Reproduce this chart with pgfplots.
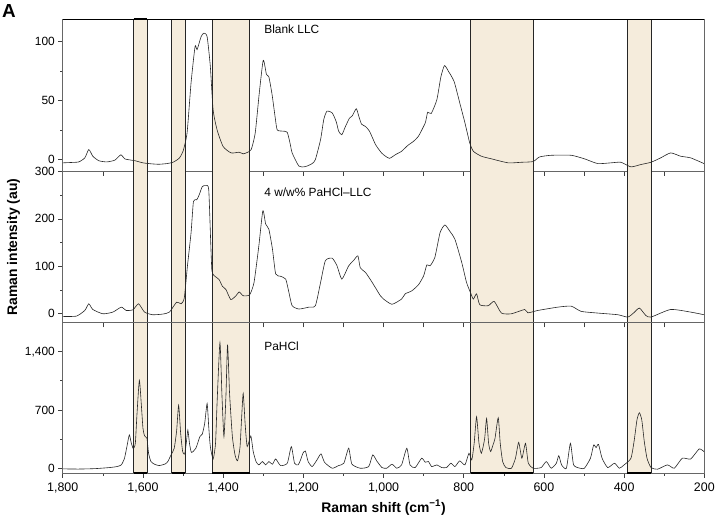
\documentclass[border=0pt]{standalone}
\usepackage{pgfplots}
\pgfplotsset{compat=1.18}
\usepackage{fontspec}
\setmainfont{Liberation Sans}
\usetikzlibrary{calc}
\definecolor{band}{RGB}{245,236,220}

% shaded regions, drawn in every panel between y=#1 and y=#2
\newcommand\bands[2]{%
  \fill[band] (axis cs:1623,#1) rectangle (axis cs:1590,#2);
  \fill[band] (axis cs:1528,#1) rectangle (axis cs:1495,#2);
  \fill[band] (axis cs:1427,#1) rectangle (axis cs:1334,#2);
  \fill[band] (axis cs:783,#1) rectangle (axis cs:627,#2);
  \fill[band] (axis cs:393,#1) rectangle (axis cs:332,#2);
  \draw[black!85, line width=0.7bp]
    (axis cs:1623,#1) -- (axis cs:1623,#2) (axis cs:1590,#1) -- (axis cs:1590,#2)
    (axis cs:1528,#1) -- (axis cs:1528,#2) (axis cs:1495,#1) -- (axis cs:1495,#2)
    (axis cs:1427,#1) -- (axis cs:1427,#2) (axis cs:1334,#1) -- (axis cs:1334,#2)
    (axis cs:783,#1) -- (axis cs:783,#2) (axis cs:627,#1) -- (axis cs:627,#2)
    (axis cs:393,#1) -- (axis cs:393,#2) (axis cs:332,#1) -- (axis cs:332,#2);
}

\pgfplotsset{
  panel/.style={
    scale only axis, width=644bp, x dir=reverse, xmin=200, xmax=1800,
    axis line style={black!60, line width=0.8bp},
    tick style={black!75, line width=0.6bp},
    xtick={200,300,...,1800},
    xtick pos=bottom, ytick pos=left, tick align=outside,
    major tick length=4.5bp, minor tick length=2.5bp,
    ticklabel style={font=\fontsize{12}{12}\selectfont},
    /pgf/number format/1000 sep={,},
    /pgf/number format/assume math mode=true,
  },
  spec/.style={black!85, line width=0.6bp, mark=none, smooth, tension=0.35},
}

\begin{document}
\begin{tikzpicture}
% ---------- Blank LLC ----------
\begin{axis}[panel, name=a1, height=153bp, ymin=-10, ymax=119,
  ytick={0,50,100}, minor ytick={25,75}, xticklabels={},
  axis y line*=left]
\bands{-10}{119}
\draw[black, line width=2bp] (axis cs:1623,119) -- (axis cs:1590,119);
\addplot[spec] coordinates {
(1800,-2.8)(1780,-2.5)(1760,-2)(1745,1.4)(1735,8.5)(1725,2.8)(1710,-1)(1690,-2)
(1670,-0.5)(1655,4)(1645,0.5)(1620,-1)(1600,-2.8)(1580,-3.6)(1560,-4)(1540,-3.4)
(1525,-2.3)(1510,1)(1500,7)(1490,22.5)(1480,65)(1470,95.8)(1465,93)(1455,104)
(1448,107)(1440,104)(1432,79)(1425,42)(1415,25)(1400,11)(1380,5.6)(1360,6.2)
(1350,4.8)(1340,6)(1330,8.5)(1320,22.5)(1310,56)(1300,84)(1292,72)(1286,70)
(1278,55)(1270,35)(1265,25)(1250,24)(1240,23)(1232,12)(1228,5.6)(1211,-5.6)
(1195,-6)(1178,-3.4)(1170,0)(1157,17)(1149,34)(1141,41)(1128,39.5)(1118,32)
(1112,24)(1104,21)(1095,28)(1085,35)(1078,37)(1068,43)(1062,37)(1055,30)
(1045,28)(1035,24)(1020,12.7)(1005,5.6)(995,2.8)(985,1.0)(970,4.2)(955,7)
(940,11.8)(925,15.5)(913,19.7)(896,31)(890,40)(881,39)(867,50.7)(857,70)
(848,79.5)(838,74.6)(824,66)(810,48)(797,31)(785,14)(776,7)(756,2.8)(731,0.6)
(689,-2.8)(656,-2.3)(627,-1.7)(611,2.2)(582,3.6)(532,3.6)(499,0.6)(466,-3.4)
(433,-2.8)(408,-2.3)(383,-6.2)(358,-4.2)(333,-2.3)(309,1.4)(284,5.6)(259,2.8)
(234,1.4)(201,-3.4)};
\node[anchor=west, font=\fontsize{12}{12}\selectfont] at (axis cs:1306,110) {Blank LLC};
\end{axis}
% black top frame line
\draw[black, line width=0.8bp] (a1.north west) -- (a1.north east);
\draw[black!60, line width=0.8bp] (a1.north east) -- (a1.south east) -- (a1.south west);

% ---------- 4 w/w% PaHCl-LLC ----------
\begin{axis}[panel, name=a2, at={(a1.south west)}, anchor=north west,
  height=152bp, ymin=-19, ymax=300,
  ytick={0,100,200,300}, minor ytick={50,150,250}, xticklabels={}]
\bands{-19}{300}
\addplot[spec] coordinates {
(1800,-5.6)(1766,-5)(1745,7)(1735,21)(1725,9)(1700,0)(1675,3.5)(1654,14)(1642,7)
(1625,8.4)(1611,21)(1596,3.5)(1576,-2)(1551,-0.7)(1534,3.5)(1516,24.5)(1505,21)
(1497,33)(1489,101)(1480,171)(1474,237)(1466,240)(1460,250)(1452,268)(1443,270)
(1436,262)(1431,150)(1428,90)(1422,80)(1410,72)(1402,58)(1393,51)(1381,30)
(1368,38)(1360,46)(1350,38)(1334,40)(1323,66)(1311,143)(1301,217)(1294,189)
(1286,178)(1277,136)(1269,84)(1257,79)(1244,73)(1236,45)(1228,17)(1211,10)
(1186,14)(1170,17)(1157,66)(1145,112)(1128,117)(1116,101)(1104,73)(1087,101)
(1075,112)(1064,122)(1058,97)(1045,87)(1029,67)(1008,38)(1000,31)(979,20)
(955,31)(946,42)(930,48)(913,61)(900,80)(892,103)(884,101)(872,119)(859,171)
(847,187)(834,173)(822,157)(805,108)(793,66)(782,42)(776,31)(768,42)(760,19)
(739,17)(724,26)(706,1.5)(681,0)(648,9)(640,2)(615,7)(565,14)(532,16)(507,5)
(466,1.5)(416,-2)(391,-7)(376,2)(362,12)(346,-3.5)(333,-7)(284,9)(234,3.5)
(201,-2)};
\node[anchor=west, font=\fontsize{12}{12}\selectfont] at (axis cs:1306,256) {4 w/w\% PaHCl–LLC};
\end{axis}

% ---------- PaHCl ----------
\begin{axis}[panel, name=a3, at={(a2.south west)}, anchor=north west,
  height=151bp, ymin=-60, ymax=1746,
  ytick={0,700,1400}, minor ytick={350,1050},
  xtick={200,400,...,1800}, minor xtick={300,500,...,1700},
  xlabel={Raman shift (cm\textsuperscript{−1})},
  xlabel style={font=\bfseries\fontsize{14}{14}\selectfont, yshift=0bp},
  xticklabel style={font=\fontsize{12.5}{12.5}\selectfont, yshift=-2bp}]
\bands{-60}{1746}
\draw[black, line width=2bp] (axis cs:1623,-60) -- (axis cs:1590,-60)
  (axis cs:1528,-60) -- (axis cs:1495,-60) (axis cs:1427,-60) -- (axis cs:1334,-60)
  (axis cs:783,-60) -- (axis cs:627,-60) (axis cs:393,-60) -- (axis cs:332,-60);
\addplot[spec] coordinates {
(1800,-8)(1760,-10)(1720,-5)(1683,8)(1665,20)(1654,40)(1646,120)(1640,260)(1634,400)
(1629,300)(1624,235)(1619,300)(1615,640)(1609,1056)(1604,760)(1600,480)(1596,390)
(1590,360)(1586,180)(1580,80)(1570,45)(1559,32)(1545,50)(1538,80)(1530,160)
(1522,240)(1516,450)(1511,757)(1506,420)(1501,200)(1496,170)(1492,300)(1488,458)
(1484,300)(1479,190)(1468,240)(1458,380)(1452,410)(1446,540)(1440,777)(1436,500)
(1432,260)(1425,110)(1419,300)(1415,800)(1408,1507)(1403,877)(1398,380)(1393,877)
(1389,1483)(1384,900)(1377,380)(1370,150)(1364,90)(1358,250)(1354,600)(1350,897)
(1345,520)(1340,260)(1331,387)(1325,200)(1318,80)(1311,40)(1302,80)(1294,40)
(1286,80)(1277,48)(1269,111)(1257,32)(1240,60)(1230,260)(1222,60)(1213,40)(1207,100)
(1201,180)(1195,207)(1188,80)(1178,20)(1166,100)(1156,172)(1147,70)(1128,0)
(1112,32)(1099,60)(1087,240)(1079,50)(1058,0)(1037,20)(1027,160)(1017,88)(1004,8)
(992,0)(979,48)(967,0)(955,40)(942,240)(934,40)(921,8)(905,120)(896,72)(888,80)
(880,20)(867,40)(855,8)(843,8)(832,60)(822,20)(810,88)(797,40)(787,180)(780,100)
(774,300)(768,618)(762,300)(756,180)(748,350)(743,598)(738,300)(733,200)(727,280)
(722,359)(714,606)(709,300)(703,80)(695,8)(681,0)(671,120)(663,311)(655,120)
(646,299)(639,60)(627,0)(607,8)(594,80)(582,0)(569,60)(563,151)(556,40)(544,0)
(534,299)(526,40)(510,0)(499,0)(484,120)(476,279)(470,247)(464,287)(455,120)
(441,8)(424,60)(412,0)(400,40)(383,120)(375,330)(368,580)(362,666)(356,580)
(350,330)(343,120)(333,8)(317,-12)(292,40)(275,0)(255,120)(234,111)(213,231)
(201,200)};
\node[anchor=west, font=\fontsize{12}{12}\selectfont] at (axis cs:1306,1459) {PaHCl};
\end{axis}

\node[rotate=90, font=\bfseries\fontsize{14}{14}\selectfont]
  at ($(a2.west)+(-49.5bp,0)$) {Raman intensity (au)};
\node[anchor=base west, font=\bfseries\fontsize{19}{19}\selectfont, inner sep=0pt]
  at ($(a1.north west)+(-61bp,1bp)$) {A};
\path ($(a3.south west)+(-63bp,-49bp)$) rectangle ($(a1.north west)+(655bp,19bp)$);
\end{tikzpicture}
\end{document}
